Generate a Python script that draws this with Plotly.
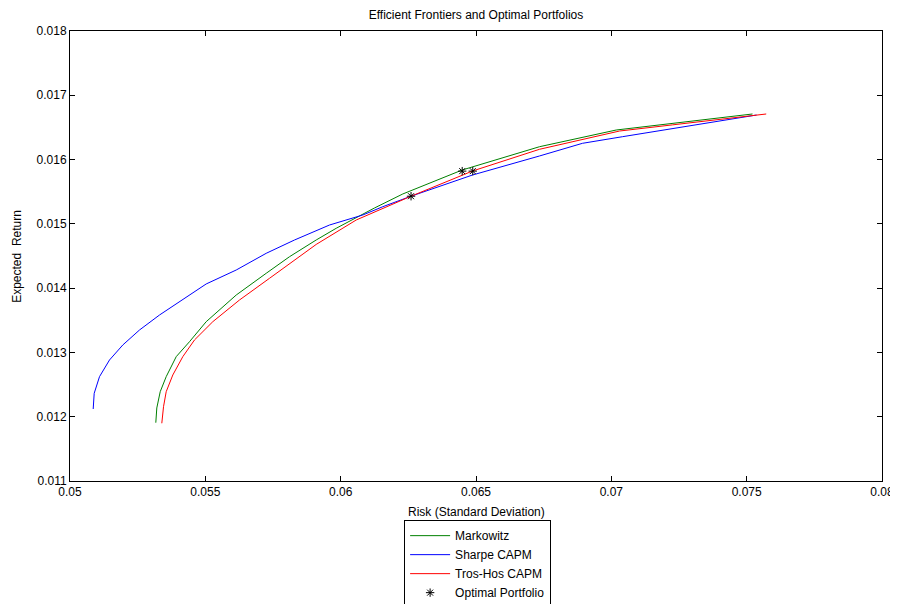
import plotly.graph_objects as go

# Markowitz efficient frontier
mk_risk = [0.05317, 0.053207, 0.053333, 0.053554, 0.053924, 0.054415, 0.055032, 0.056141,
           0.057249, 0.05811, 0.059096, 0.059835, 0.06125, 0.062296, 0.064491, 0.067347,
           0.070181, 0.072261, 0.075216]
mk_ret = [0.011907, 0.012136, 0.012389, 0.012623, 0.012934, 0.013167, 0.013478, 0.013893,
          0.014231, 0.014489, 0.014749, 0.014931, 0.015247, 0.015465, 0.015838, 0.0162,
          0.01646, 0.016564, 0.016709]

# Sharpe CAPM frontier
sh_risk = [0.050857, 0.050894, 0.05109, 0.051459, 0.051951, 0.052568, 0.053307, 0.054046,
           0.055032, 0.056141, 0.057249, 0.058295, 0.059588, 0.060818, 0.061557, 0.0626,
           0.064871, 0.067347, 0.068935, 0.070413, 0.072261, 0.075364]
sh_ret = [0.01212, 0.012364, 0.012623, 0.012882, 0.013116, 0.013349, 0.013582, 0.013789,
          0.014065, 0.014282, 0.014542, 0.014749, 0.014982, 0.015138, 0.015267, 0.01543,
          0.01576, 0.016056, 0.016253, 0.016356, 0.016486, 0.016693]

# Tros-Hos CAPM frontier
th_risk = [0.053392, 0.053455, 0.053554, 0.053798, 0.054168, 0.0546, 0.055276, 0.056263,
           0.057371, 0.058357, 0.059096, 0.060574, 0.061571, 0.0626, 0.064513, 0.064871,
           0.067347, 0.070303, 0.072261, 0.075722]
th_ret = [0.011898, 0.012156, 0.012389, 0.012649, 0.012934, 0.013194, 0.013478, 0.013816,
          0.014153, 0.01446, 0.01468, 0.01506, 0.015242, 0.01543, 0.01576, 0.015822,
          0.01616, 0.016444, 0.01654, 0.016709]

# Optimal portfolios
opt_risk = [0.0626, 0.06449, 0.06488]
opt_ret = [0.01543, 0.01582, 0.01582]

x_ticks = [0.05, 0.055, 0.06, 0.065, 0.07, 0.075, 0.08]
x_labels = ["0.05", "0.055", "0.06", "0.065", "0.07", "0.075", "0.08"]
y_ticks = [0.011, 0.012, 0.013, 0.014, 0.015, 0.016, 0.017, 0.018]
y_labels = ["0.011", "0.012", "0.013", "0.014", "0.015", "0.016", "0.017", "0.018"]

FONT = "Liberation Sans, Arial, sans-serif"

fig = go.Figure()
fig.add_trace(go.Scatter(x=mk_risk, y=mk_ret, mode="lines", name="Markowitz",
                         line=dict(color="#008000", width=1)))
fig.add_trace(go.Scatter(x=sh_risk, y=sh_ret, mode="lines", name="Sharpe CAPM",
                         line=dict(color="#0000FF", width=1)))
fig.add_trace(go.Scatter(x=th_risk, y=th_ret, mode="lines", name="Tros-Hos CAPM",
                         line=dict(color="#FF0000", width=1)))
fig.add_trace(go.Scatter(x=opt_risk, y=opt_ret, mode="markers", name="Optimal Portfolio",
                         marker=dict(symbol="asterisk-open", size=7, color="black",
                                     line=dict(color="black", width=1))))

axis_common = dict(showline=True, linecolor="black", linewidth=1, mirror="ticks",
                   ticks="inside", ticklen=5, tickcolor="black", showgrid=False,
                   zeroline=False, automargin=False,
                   tickfont=dict(family=FONT, size=12, color="black"))

# the page body adds an 8px offset; margins compensate so the plot box
# lands at x 70..882, y 31..481 in the 898x604 window
fig.update_layout(
    width=898, height=604,
    paper_bgcolor="white", plot_bgcolor="white",
    margin=dict(l=62, r=24, t=23, b=131, autoexpand=False),
    title=dict(text="Efficient Frontiers and Optimal Portfolios", x=0.5, xref="paper",
               xanchor="center", y=1 - 7 / 604, yref="container", yanchor="middle",
               font=dict(family=FONT, size=12, color="black")),
    xaxis=dict(range=[0.05, 0.08], tickvals=x_ticks, ticktext=x_labels, **axis_common),
    yaxis=dict(range=[0.011, 0.018], tickvals=y_ticks, ticktext=y_labels, **axis_common),
    legend=dict(x=0.502, xanchor="center", y=-0.087, yanchor="top",
                bordercolor="black", borderwidth=1, bgcolor="white",
                font=dict(family=FONT, size=12, color="black"),
                itemwidth=40),
    showlegend=True,
    annotations=[
        dict(text="Risk (Standard Deviation)", xref="paper", yref="paper",
             x=0.5, y=-0.0678, xanchor="center", yanchor="middle", showarrow=False,
             font=dict(family=FONT, size=12, color="black")),
        dict(text="Expected  Return", xref="paper", yref="paper",
             x=-0.0655, y=0.5, xanchor="center", yanchor="middle", showarrow=False,
             textangle=-90, font=dict(family=FONT, size=12, color="black")),
    ],
)

fig.write_html("out.html")
